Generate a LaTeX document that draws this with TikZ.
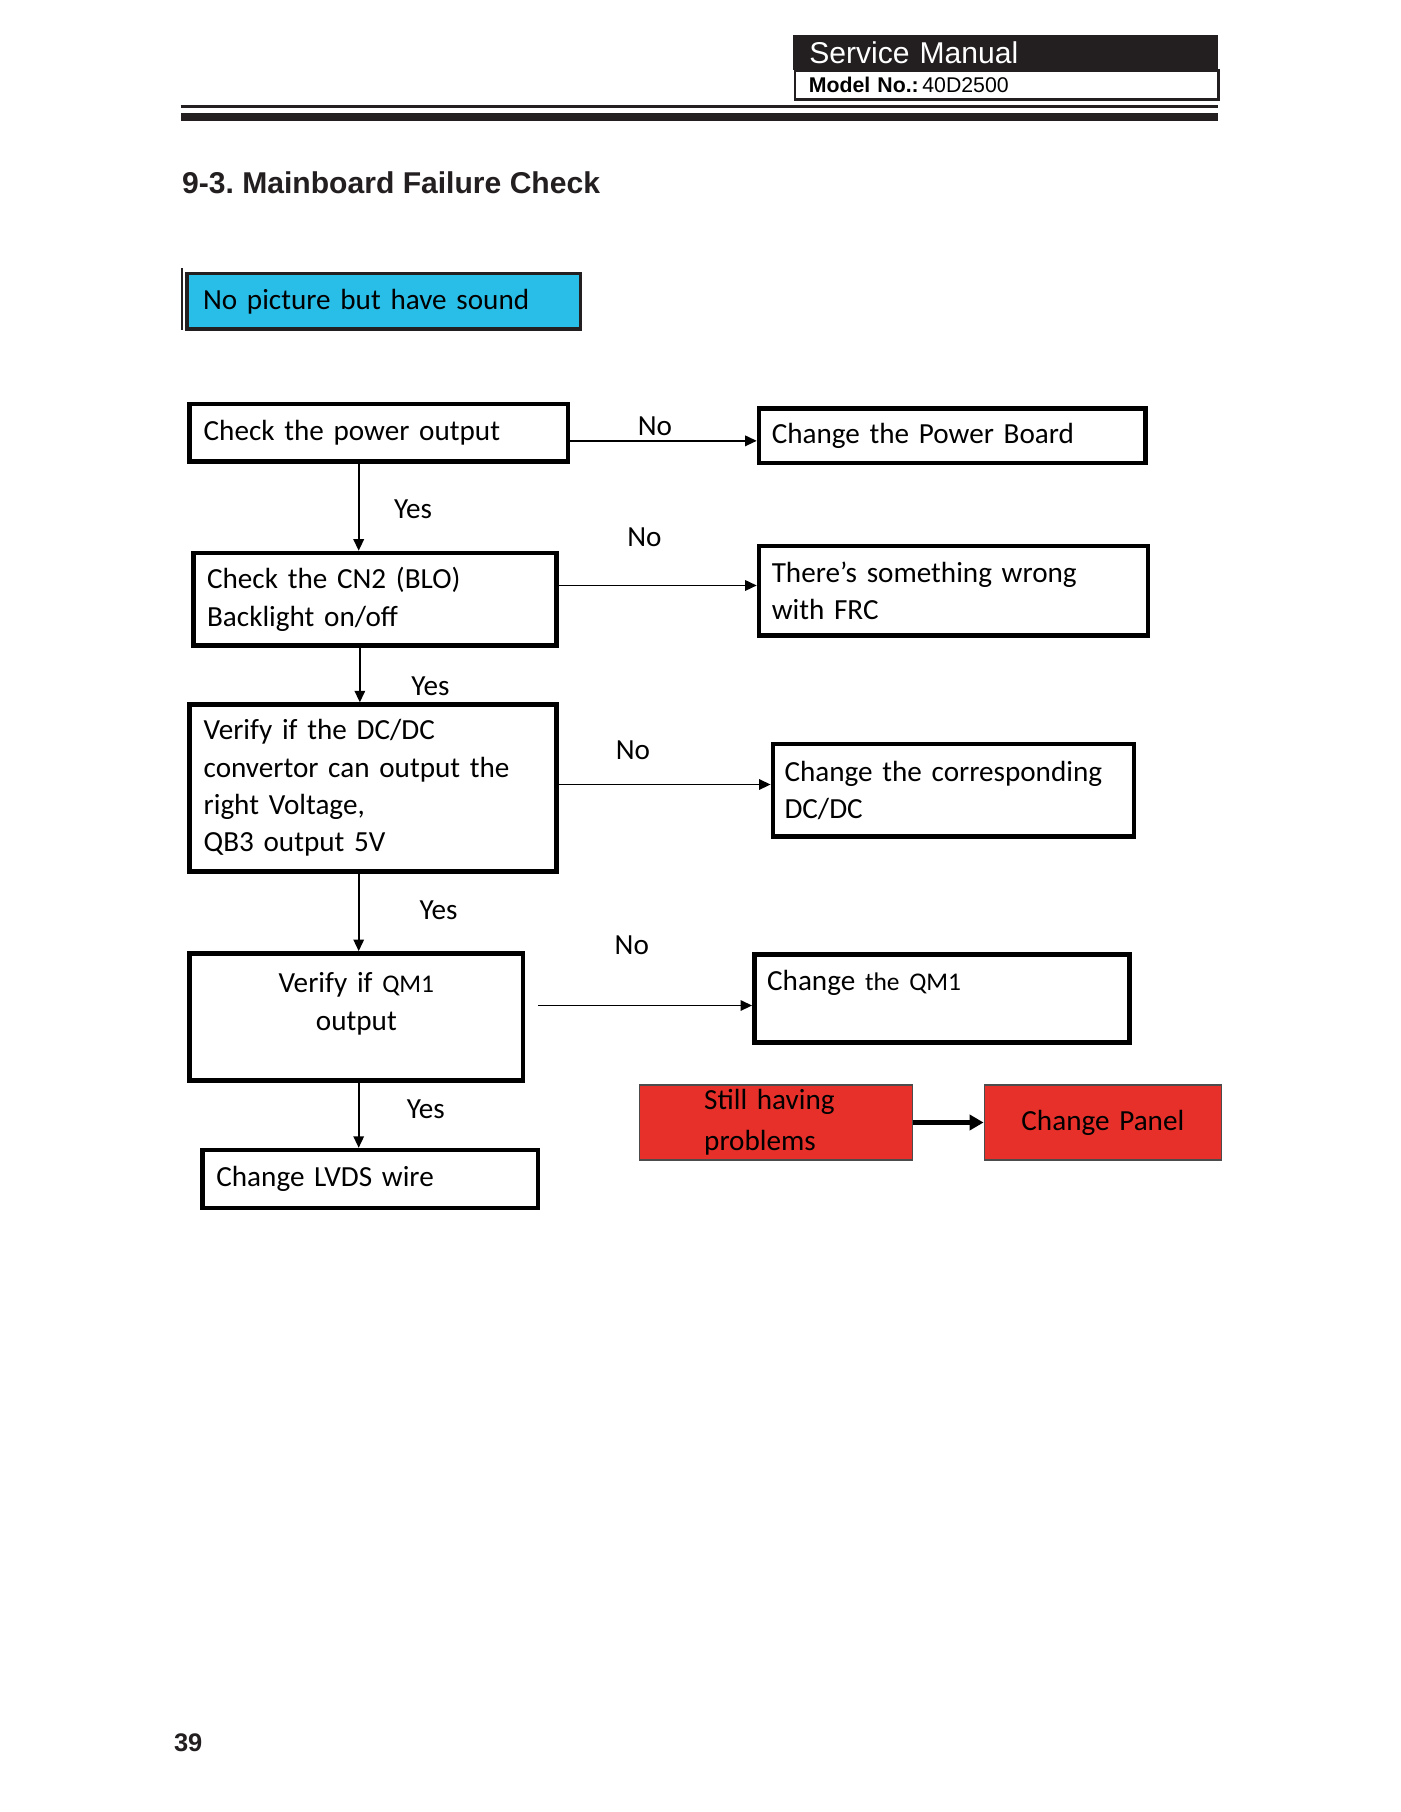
\documentclass[tikz,border=0pt]{standalone}
\usepackage{fontspec}
\setmainfont{Carlito}
\newfontfamily\arialf{Liberation Sans}
\usetikzlibrary{arrows.meta}
\definecolor{cyanbox}{RGB}{41,190,232}
\definecolor{redbox}{RGB}{232,48,42}
\definecolor{hdr}{RGB}{35,31,32}
\frenchspacing
\begin{document}
\begin{tikzpicture}[x=0.5pt,y=-0.5pt,
  every node/.style={font=\fontsize{12.6}{16.2}\selectfont},
  box/.style={draw=black, line width=2pt, anchor=north west, inner ysep=0pt, align=left},
  arr/.style={line width=0.8pt, -{Triangle[length=5pt,width=4.5pt]}},
  lbl/.style={inner sep=0pt}]
\useasboundingbox (0,0) rectangle (1210,1566);
\fill[white] (0,0) rectangle (1210,1566);

% header
\node[fill=hdr, anchor=north west, inner xsep=7pt, inner ysep=0pt, minimum height=15pt, text width=169.5pt, align=left,
      text=white, font=\arialf\fontsize{13}{13}\selectfont] (hd) at (685,30) {Service Manual};
\node[draw=hdr, line width=1pt, anchor=north west, inner xsep=6pt, inner ysep=0pt, minimum height=12.5pt, text width=171pt, align=left,
      font=\arialf\fontsize{9.2}{10}\selectfont] (model) at (686,60) {\textbf{Model No.:}\,40D2500};
\draw[line width=1pt, hdr] (156,92) -- (1053,92);
\fill[hdr] (156,98) rectangle (1053,105);

% title
\node[anchor=base west, inner sep=0pt, font=\arialf\bfseries\fontsize{13}{15}\selectfont, text=hdr] (title) at (157,167) {9-3. Mainboard Failure Check};

% start box
\draw[line width=1pt, hdr] (157,232) -- (157,285);
\node[box, fill=cyanbox, line width=1.5pt, draw=hdr, inner xsep=7pt, minimum height=24pt, text width=156pt] (start) at (160,235) {No picture but have sound};

% left column
\node[box, inner xsep=6pt, minimum height=25pt, text width=151.5pt] (b1) at (162,347) {Check the power output};
\node[box, inner xsep=6pt, minimum height=40pt, text width=145pt] (b2) at (165,476) {Check the CN2 (BLO)\\Backlight on/off};
\node[box, inner xsep=6pt, minimum height=72pt, text width=146.5pt] (b3) at (162,607) {Verify if the DC/DC\\convertor can output the\\right Voltage,\\QB3 output 5V};
\node[box, inner xsep=6pt, minimum height=55pt, text width=132pt, align=center] (b4) at (162,822) {Verify if {\fontsize{11}{16}\selectfont QM1}\\output\\[-2.5pt]\mbox{}};
\node[box, inner xsep=6pt, minimum height=25pt, text width=133pt] (lvds) at (173,992) {Change LVDS wire};

% right column
\node[box, inner xsep=5.5pt, minimum height=23.5pt, text width=156pt] (pb) at (654,351) {Change the Power Board};
\node[box, inner xsep=5.5pt, minimum height=38.5pt, text width=157pt] (frc) at (654,470) {There’s something wrong\\with FRC};
\node[box, inner xsep=5pt, minimum height=40pt, text width=146pt] (dcdc) at (666,641) {Change the corresponding\\DC/DC};
\node[box, inner xsep=5.5pt, minimum height=38pt, text width=151pt] (qm1) at (650,823) {Change {\fontsize{11}{16}\selectfont the QM1}\\[-0.5pt]\mbox{}};

% red boxes
\node[box, fill=redbox, draw=black!70, line width=0.6pt, inner xsep=28pt, minimum height=32.5pt, text width=62pt] (still) at (552,937) {Still having\\[1.5pt]problems};
\node[box, fill=redbox, draw=black!70, line width=0.6pt, inner xsep=4pt, minimum height=32.5pt, text width=94.5pt, align=center] (panel) at (850,937) {Change Panel};

% connectors
\draw[arr] (b1.east |- 0,381) -- (pb.west |- 0,381);
\draw[arr] (b2.east |- 0,506) -- (frc.west |- 0,506);
\draw[arr] (b3.east |- 0,678) -- (dcdc.west |- 0,678);
\draw[arr, shorten <=5.5pt] (b4.east |- 0,869) -- (qm1.west |- 0,869);

\draw[arr] (b1.south -| 310,0) -- (b2.north -| 310,0);
\draw[arr] (b2.south -| 311,0) -- (b3.north -| 311,0);
\draw[arr] (b3.south -| 310,0) -- (b4.north -| 310,0);
\draw[arr] (b4.south -| 310,0) -- (lvds.north -| 310,0);

\draw[line width=2pt, -{Triangle[length=6pt,width=6.5pt]}] (still.east) -- (panel.west);

% labels
\node[lbl] (no1) at (566,368) {No};
\node[lbl] (yes1) at (357,440) {Yes};
\node[lbl] (no2) at (557,464) {No};
\node[lbl] (yes2) at (372,593) {Yes};
\node[lbl] (no3) at (547,648) {No};
\node[lbl] (yes3) at (379,787) {Yes};
\node[lbl] (no4) at (546,817) {No};
\node[lbl] (yes4) at (368,959) {Yes};

% page number
\node[anchor=base west, inner sep=0pt, font=\arialf\bfseries\fontsize{11}{13}\selectfont, text=hdr] (page) at (150,1514) {39};
\end{tikzpicture}
\end{document}
